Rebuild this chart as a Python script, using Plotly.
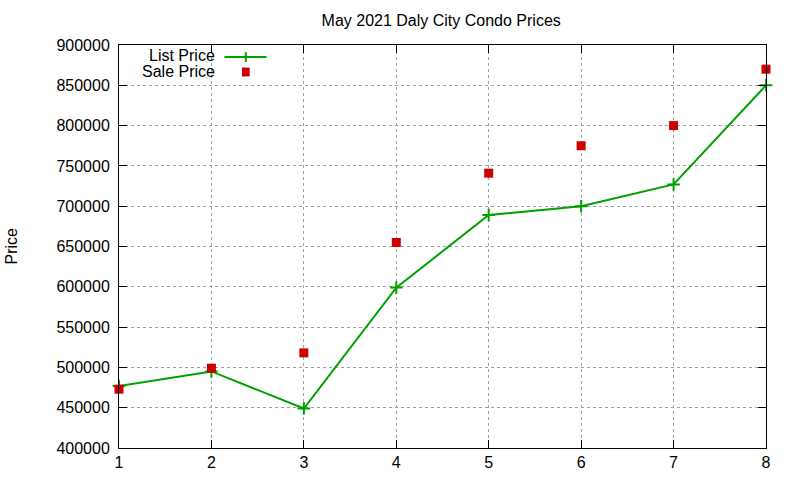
import plotly.graph_objects as go

# Data
months = [1, 2, 3, 4, 5, 6, 7, 8]
list_price = [477000, 495000, 449000, 599000, 689000, 700000, 727000, 850000]
sale_price = [473000, 499000, 518000, 655000, 741000, 775000, 800000, 870000]

green = "#00a000"
red = "#cc0000"
font_family = "Liberation Sans, Arial, sans-serif"

fig = go.Figure()

fig.add_trace(go.Scatter(
    x=months, y=list_price, name="List Price",
    mode="lines+markers",
    line=dict(color=green, width=2),
    marker=dict(symbol="cross-thin", size=9, line=dict(color=green, width=2)),
    cliponaxis=False
))

fig.add_trace(go.Scatter(
    x=months, y=sale_price, name="Sale Price",
    mode="markers",
    marker=dict(symbol="square", size=9, color=red),
    cliponaxis=False
))

# gnuplot-style legend: text right aligned, sample on the right
fig.add_annotation(xref="paper", yref="paper", x=0.152, y=0.975, text="List Price",
                   showarrow=False, xanchor="right", yanchor="middle", height=16,
                   font=dict(size=16, color="black"))
fig.add_annotation(xref="paper", yref="paper", x=0.152, y=0.935, text="Sale Price",
                   showarrow=False, xanchor="right", yanchor="middle", height=16,
                   font=dict(size=16, color="black"))
fig.add_shape(type="line", xref="paper", yref="paper", x0=0.163, x1=0.228, y0=0.97, y1=0.97,
              line=dict(color=green, width=2))
fig.add_shape(type="line", xref="paper", yref="paper", x0=0.196, x1=0.196, y0=0.958, y1=0.982,
              line=dict(color=green, width=2))
fig.add_shape(type="rect", xref="paper", yref="paper", x0=0.190, x1=0.202, y0=0.922, y1=0.944,
              fillcolor=red, line=dict(width=0))

# y axis label, placed like gnuplot's
fig.add_annotation(xref="paper", yref="paper", x=0, y=0.5, xshift=-108, text="Price",
                   textangle=-90, showarrow=False, xanchor="center", yanchor="middle",
                   font=dict(size=16, color="black"))

fig.update_layout(
    width=800, height=480,
    title=dict(text="May 2021 Daly City Condo Prices", x=0.498, xref="paper",
               xanchor="center", y=0.958, yanchor="middle",
               font=dict(size=16, color="black")),
    font=dict(family=font_family, size=16, color="black"),
    showlegend=False,
    plot_bgcolor="white", paper_bgcolor="white",
    margin=dict(l=119, r=34, t=45, b=32, autoexpand=False),
    xaxis=dict(range=[1, 8], dtick=1, showgrid=True, gridcolor="#a0a0a0",
               griddash="dot", gridwidth=1, zeroline=False, automargin=False,
               showline=True, linecolor="black", linewidth=1, mirror="ticks",
               ticks="inside", ticklen=8, tickcolor="black",
               tickfont=dict(size=16)),
    yaxis=dict(range=[400000, 900000], dtick=50000, tickformat="d",
               showgrid=True, gridcolor="#a0a0a0", griddash="dot", gridwidth=1,
               zeroline=False, automargin=False, showline=True, linecolor="black",
               linewidth=1, mirror="ticks", ticks="inside", ticklen=8,
               tickcolor="black", ticklabelstandoff=5, tickfont=dict(size=16))
)

# drop the page's default body margin so the figure sits at the window corner
fig.write_html("out.html", config={"displayModeBar": False},
               post_script="document.body.style.margin='0';")
